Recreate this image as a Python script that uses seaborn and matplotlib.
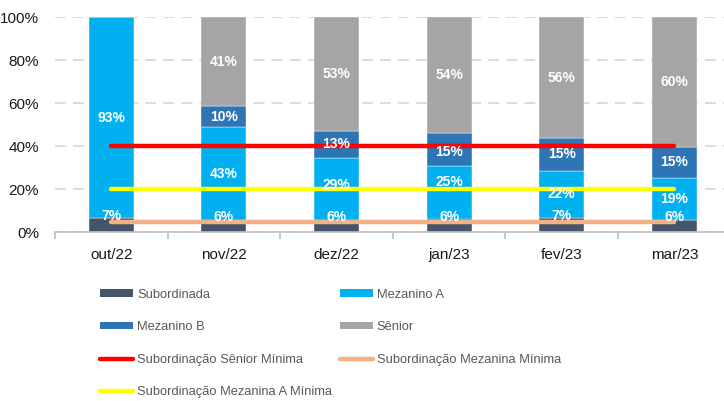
import numpy as np
import pandas as pd
import matplotlib
matplotlib.use("Agg")
import matplotlib.pyplot as plt
import seaborn as sns
from matplotlib.patches import Patch
from matplotlib.lines import Line2D
from matplotlib.ticker import FixedLocator, FuncFormatter

# ---- data ----
categories = ["out/22", "nov/22", "dez/22", "jan/23", "fev/23", "mar/23"]
subordinada = [6.6, 5.8, 5.8, 6.0, 6.6, 5.9]
mezanino_a = [93.4, 43.0, 28.8, 25.0, 22.0, 19.2]
mezanino_b = [0.0, 9.8, 12.6, 15.0, 15.4, 14.8]
senior = [0.0, 41.4, 52.8, 54.0, 56.0, 60.1]

min_senior = 40          # Subordinação Sênior Mínima
min_mezanino = 5         # Subordinação Mezanina Mínima
min_mezanino_a = 20      # Subordinação Mezanina A Mínima

y_ticks = [0, 20, 40, 60, 80, 100]

# manual label nudges (in percentage points), as in the original chart
label_nudge = {("Mezanino A", "dez/22"): 2.0, ("Mezanino A", "jan/23"): 5.0,
               ("Mezanino B", "jan/23"): -1.0}

# ---- style ----
sns.set_theme(style="white")
FAM = ["Liberation Sans", "DejaVu Sans"]
plt.rcParams["font.family"] = FAM

fig = plt.figure(figsize=(7.24, 4.01), dpi=100)
ax = fig.add_axes([55 / 724, 1 - 232.3 / 401, 675.7 / 724, 215 / 401])

layers = [
    ("Subordinada", subordinada, "#44546A"),
    ("Mezanino A", mezanino_a, "#00B0F0"),
    ("Mezanino B", mezanino_b, "#2E75B6"),
    ("Sênior", senior, "#A5A5A5"),
]

bottom = np.zeros(len(categories))
for name, vals, color in layers:
    vals = np.asarray(vals, dtype=float)
    sns.barplot(x=categories, y=vals, bottom=bottom, color=color, width=0.4,
                saturation=1, edgecolor="white", linewidth=0.3, ax=ax, zorder=2)
    for i, v in enumerate(vals):
        if v <= 0:
            continue
        if name == "Subordinada":
            yc = v + 1.2
        else:
            yc = bottom[i] + v / 2
        yc += label_nudge.get((name, categories[i]), 0.0)
        ax.text(i, yc, f"{v:.0f}%", ha="center", va="center", color="white",
                fontsize=10, fontweight="bold", family=FAM, zorder=10)
    bottom = bottom + vals

lines = [
    ("Subordinação Sênior Mínima", min_senior, "#FF0000"),
    ("Subordinação Mezanina Mínima", min_mezanino, "#F4B183"),
    ("Subordinação Mezanina A Mínima", min_mezanino_a, "#FFFF00"),
]
for name, val, color in lines:
    sns.lineplot(x=categories, y=[val] * len(categories), color=color,
                 linewidth=3.2, sort=False, ax=ax, zorder=5,
                 solid_capstyle="round")

# ---- axes ----
ax.set_xlim(-0.5, len(categories) - 0.5)
ax.set_ylim(0, 100)
ax.yaxis.set_major_locator(FixedLocator(y_ticks))
ax.yaxis.set_major_formatter(FuncFormatter(lambda v, p: f"{v:.0f}%"))
ax.set_xlabel("")
ax.set_ylabel("")
ax.yaxis.grid(True, linestyle=(0, (6, 4)), color="#d9d9d9", linewidth=1.3)
ax.xaxis.grid(False)
ax.set_axisbelow(True)
for s in ["top", "right", "left"]:
    ax.spines[s].set_visible(False)
ax.spines["bottom"].set_color("#bfbfbf")
ax.spines["bottom"].set_linewidth(1.2)
ax.xaxis.set_minor_locator(FixedLocator(np.arange(-0.5, len(categories), 1.0)))
ax.tick_params(axis="x", which="major", length=0, pad=11, labelsize=11,
               labelcolor="#1a1a1a")
ax.tick_params(axis="x", which="minor", length=5, width=1.2, color="#bfbfbf",
               direction="out", bottom=True)
ax.tick_params(axis="y", length=0, pad=11.5, labelsize=11, labelcolor="#1a1a1a")

# ---- legend ----
h = {name: Patch(facecolor=c, edgecolor="none") for name, _, c in layers}
for name, _, c in lines:
    h[name] = Line2D([0], [0], color=c, linewidth=3.2, solid_capstyle="round")
order = ["Subordinada", "Mezanino B", "Subordinação Sênior Mínima",
         "Subordinação Mezanina A Mínima",
         "Mezanino A", "Sênior", "Subordinação Mezanina Mínima"]
leg = fig.legend([h[n] for n in order], order, ncol=2, loc="upper left",
                 bbox_to_anchor=(100 / 724, 1 - 288.5 / 401), frameon=False,
                 fontsize=9.3, handlelength=2.56, handleheight=0.55,
                 handletextpad=0.3, columnspacing=0.6, labelspacing=1.6,
                 borderpad=0, borderaxespad=0)
for t in leg.get_texts():
    t.set_color("#595959")

fig.savefig("out.png", dpi=100)
